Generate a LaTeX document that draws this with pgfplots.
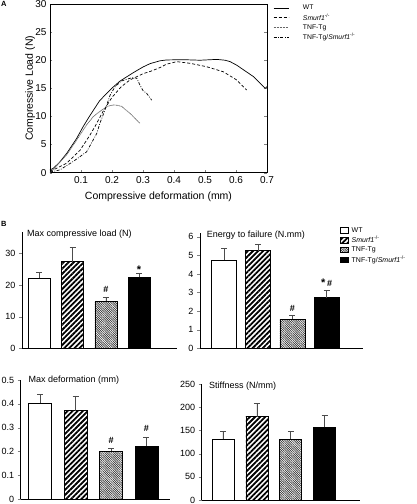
\documentclass[border=0pt]{standalone}
\usepackage{pgfplots}
\pgfplotsset{compat=1.18}
\usepackage{fontspec}
\setmainfont{Liberation Sans}
\usetikzlibrary{patterns.meta}
\newcommand{\smurf}{\textit{Smurf1}\textsuperscript{-/-}}
\newcommand{\sigast}{{\fontsize{11}{11}\selectfont *}}
\tikzset{sig/.style={font=\fontsize{9}{10}\selectfont\bfseries, anchor=base}}
\pgfplotsset{
  bstyle/.style={
    scale only axis, anchor=south west,
    axis x line*=bottom, axis y line*=left,
    xtick=\empty, tick align=outside, major tick length=3pt,
    ytick pos=left,
    axis line style={line width=0.6pt},
    ticklabel style={font=\fontsize{9}{10}\selectfont},
    /pgf/number format/assume math mode=true,
    ymin=0, clip=false,
    error bars/y dir=plus, error bars/y explicit,
    error bars/error bar style={black!70,line width=0.7pt},
    error bars/error mark options={black!70,line width=0.7pt,mark size=3pt,rotate=90},
  },
  mybar/.style={ybar, bar width=#1, bar shift=0pt, draw=black, line width=0.7pt,
    legend image code/.code={\draw[##1,line width=0.5pt] (0pt,-2.8pt) rectangle (8pt,2.8pt);}},
  wtbar/.style={fill=white},
  smbar/.style={pattern={Lines[angle=45,distance=3.6pt,line width=1.8pt]}},
  tgbar/.style={pattern={Lines[angle=-45,distance=1.6pt,line width=0.7pt]},pattern color=black!80},
  tsbar/.style={fill=black},
}
\begin{document}
\begin{tikzpicture}
\useasboundingbox (0,0) rectangle (416pt,504pt);
\node[anchor=north west,font=\fontsize{7.5}{8}\selectfont\bfseries,inner sep=0pt] at (1pt,503pt) {A};
\node[anchor=north west,font=\fontsize{7.5}{8}\selectfont\bfseries,inner sep=0pt] at (1pt,283pt) {B};

% ---------------- Panel A
\begin{axis}[
  at={(50pt,331.3pt)}, anchor=south west, scale only axis,
  width=217pt, height=168.7pt,
  xmin=0, xmax=0.7, ymin=0, ymax=30,
  xtick={0.1,0.2,0.3,0.4,0.5,0.6,0.7},
  ytick={0,5,10,15,20,25,30},
  tick align=inside, xtick pos=bottom, ytick pos=both, major tick length=2.5pt,
  axis line style={line width=0.6pt},
  /pgf/number format/assume math mode=true,
  ticklabel style={font=\fontsize{10}{11}\selectfont},
  label style={font=\fontsize{10.5}{12}\selectfont},
  xlabel={Compressive deformation (mm)},
  ylabel={Compressive Load (N)},
  xlabel style={at={(axis description cs:0.5,-0.142)}, anchor=center},
  ylabel style={at={(axis description cs:-0.092,0.5)}, anchor=center},
  legend style={at={(1.028,1.006)}, anchor=north west, draw=none, fill=none,
    font=\fontsize{6.8}{7.5}\selectfont, inner sep=0pt, row sep=-1.5pt,
    cells={anchor=west}, /tikz/every odd column/.append style={column sep=12pt}},
  legend image code/.code={\draw[#1] (0pt,0pt) -- (15pt,0pt);},
  every axis plot/.append style={line width=0.7pt},
]
\addplot[black] coordinates {
(0,0.5) (0.011,0.8) (0.03,1.8) (0.054,3.45) (0.086,6.1) (0.107,8.2) (0.127,10) (0.16,12.8) (0.199,15.0) (0.226,16.3) (0.269,17.8) (0.3,18.8) (0.323,19.4) (0.355,19.9) (0.376,20.05) (0.43,20.1) (0.484,20.0) (0.538,20.15) (0.565,20.0) (0.581,19.75) (0.603,19.1) (0.624,18.3) (0.656,17.1) (0.683,15.6) (0.694,15.0) (0.7,15.3)
};
\addlegendentry{WT}
\addplot[black, dash pattern=on 3pt off 2pt] coordinates {
(0,0.3) (0.011,0.5) (0.054,1.7) (0.097,4.0) (0.129,6.7) (0.145,8.2) (0.17,10.8) (0.2,13.4) (0.23,15.3) (0.258,16.5) (0.3,17.6) (0.323,18.0) (0.355,18.7) (0.376,19.3) (0.409,19.75) (0.452,19.45) (0.505,18.85) (0.559,17.95) (0.602,16.5) (0.634,14.7)
};
\addlegendentry{\smurf}
\addplot[black!60, dash pattern=on 1pt off 0.5pt] coordinates {
(0,0) (0.011,0.6) (0.054,3.2) (0.086,5.8) (0.118,8.5) (0.14,10.0) (0.161,10.9) (0.185,11.8) (0.204,12.05) (0.215,12.0) (0.231,11.8) (0.263,10.3) (0.29,8.8)
};
\addlegendentry{TNF-Tg}
\addplot[black, dash pattern=on 3pt off 1.5pt on 0.8pt off 1.5pt] coordinates {
(0,0.1) (0.032,0.5) (0.075,2.0) (0.118,3.7) (0.151,7.0) (0.161,8.8) (0.175,10.8) (0.194,13.8) (0.21,15.3) (0.23,16.3) (0.247,16.6) (0.265,16.9) (0.28,16.8) (0.29,15.6) (0.3,14.6) (0.312,14.1) (0.328,12.9)
};
\addlegendentry{TNF-Tg/\smurf}
\end{axis}

% ---------------- B1 Max compressive load
\begin{axis}[bstyle,
  at={(22pt,155.7pt)}, width=155pt, height=116.3pt,
  xmin=0.473, xmax=5.142, ymax=36.7, ytick={0,10,20,30}]
\addplot[mybar=22pt, wtbar] coordinates {(1,22.1) +- (0,1.8)};
\addplot[mybar=22pt, smbar] coordinates {(2,27.3) +- (0,4.6)};
\addplot[mybar=22pt, tgbar] coordinates {(3,14.9) +- (0,1.1)};
\addplot[mybar=22pt, tsbar] coordinates {(4,22.4) +- (0,1.3)};
\node[anchor=west,font=\fontsize{9}{10}\selectfont] at (axis description cs:0.01,0.985) {Max compressive load (N)};
\node[sig] at (axis cs:3,17.7) {\#};
\node[sig] at (axis cs:4,23.6) {\sigast};
\end{axis}

% ---------------- B2 Energy to failure
\begin{axis}[bstyle,
  at={(200pt,155.7pt)}, width=163pt, height=115.3pt,
  xmin=0.298, xmax=5.064, ymax=6.2, ytick={0,1,2,3,4,5,6},
  legend style={at={(0.859,1.069)}, anchor=north west, draw=none, fill=none,
    font=\fontsize{7}{7.5}\selectfont, inner sep=0pt, row sep=-1.5pt,
    cells={anchor=west}, /tikz/every odd column/.append style={column sep=1pt}},
  ]
\addplot[mybar=25pt, wtbar] coordinates {(1,4.75) +- (0,0.63)};
\addlegendentry{WT}
\addplot[mybar=25pt, smbar] coordinates {(2,5.25) +- (0,0.35)};
\addlegendentry{\smurf}
\addplot[mybar=25pt, tgbar] coordinates {(3,1.57) +- (0,0.22)};
\addlegendentry{TNF-Tg}
\addplot[mybar=25pt, tsbar] coordinates {(4,2.72) +- (0,0.38)};
\addlegendentry{TNF-Tg/\smurf}
\node[anchor=west,font=\fontsize{9}{10}\selectfont] at (axis description cs:0.02,0.985) {Energy to failure (N.mm)};
\node[sig] at (axis cs:3,1.97) {\#};
\node[sig] at (axis cs:4,3.3) {\sigast\,\#};
\end{axis}

% ---------------- B3 Max deformation
\begin{axis}[bstyle,
  at={(20.7pt,4.7pt)}, width=149.3pt, height=119.3pt,
  xmin=0.446, xmax=4.664, ymax=0.5, ytick={0,0.1,0.2,0.3,0.4,0.5}]
\addplot[mybar=23pt, wtbar] coordinates {(1,0.404) +- (0,0.036)};
\addplot[mybar=23pt, smbar] coordinates {(2,0.372) +- (0,0.061)};
\addplot[mybar=23pt, tgbar] coordinates {(3,0.202) +- (0,0.011)};
\addplot[mybar=23pt, tsbar] coordinates {(4,0.223) +- (0,0.036)};
\node[anchor=west,font=\fontsize{9}{10}\selectfont] at (axis description cs:0.03,1.0) {Max deformation (mm)};
\node[sig] at (axis cs:3,0.234) {\#};
\node[sig] at (axis cs:4,0.283) {\#};
\end{axis}

% ---------------- B4 Stiffness
\begin{axis}[bstyle,
  at={(201.7pt,4pt)}, width=158.3pt, height=116pt,
  xmin=0.372, xmax=5.042, ymax=250, ytick={0,50,100,150,200,250}]
\addplot[mybar=22pt, wtbar] coordinates {(1,131) +- (0,16)};
\addplot[mybar=22pt, smbar] coordinates {(2,179.5) +- (0,28.5)};
\addplot[mybar=22pt, tgbar] coordinates {(3,131) +- (0,16)};
\addplot[mybar=22pt, tsbar] coordinates {(4,157) +- (0,25)};
\node[anchor=west,font=\fontsize{9}{10}\selectfont] at (axis description cs:0.025,0.977) {Stiffness (N/mm)};
\end{axis}
\end{tikzpicture}
\end{document}
